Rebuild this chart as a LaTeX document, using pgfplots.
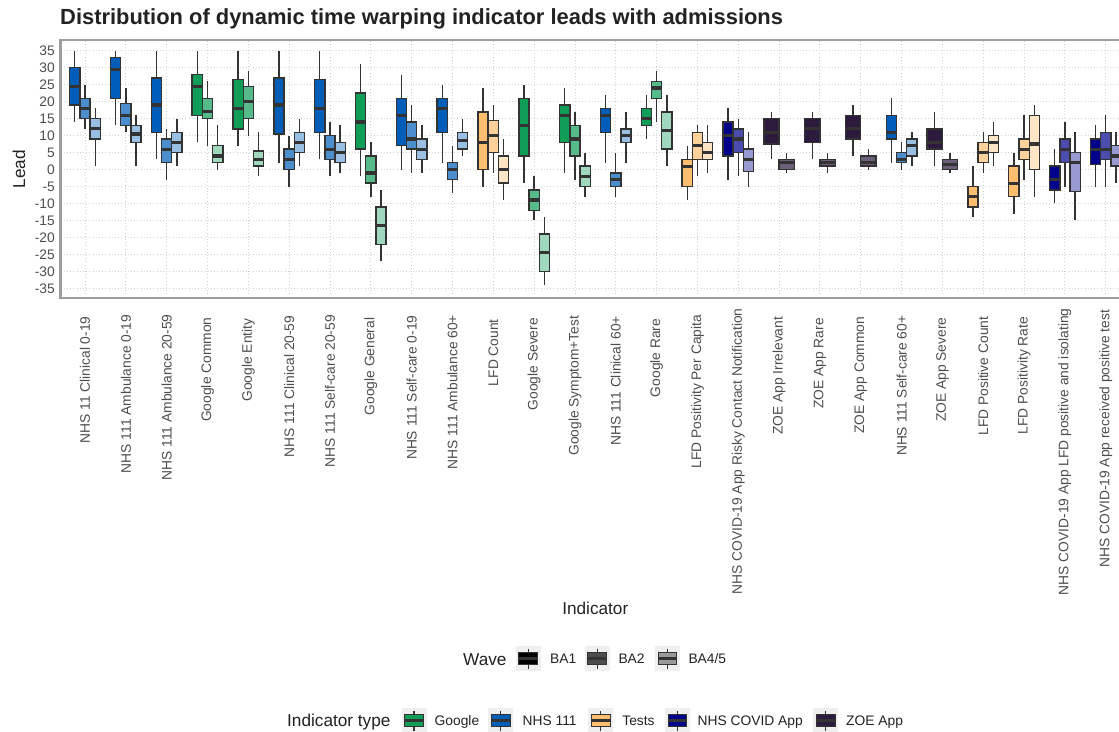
\documentclass[border=0pt]{standalone}
\usepackage{fontspec}
\setmainfont{Liberation Sans}
\usepackage{pgfplots}
\pgfplotsset{compat=1.18}
\usepgfplotslibrary{statistics}

\definecolor{googleC}{HTML}{0F9D58}
\definecolor{nhsC}{HTML}{005EB8}
\definecolor{testsC}{HTML}{FDBF6F}
\definecolor{covidC}{HTML}{00008B}
\definecolor{zoeC}{HTML}{2D1B3D}
\definecolor{boxline}{HTML}{333333}
\definecolor{gridC}{HTML}{D2D2D2}
\definecolor{borderC}{HTML}{9E9E9E}
\definecolor{tickC}{HTML}{4D4D4D}
\definecolor{keybg}{HTML}{EFEFEF}
\definecolor{titleC}{HTML}{222222}

\newsavebox{\lblbox}
\DeclareRobustCommand{\lbl}[1]{\sbox{\lblbox}{#1}\usebox{\lblbox}\hspace*{-0.05\wd\lblbox}}

% pos, extend, colour, percent, lower whisker, lower quartile, median, upper quartile, upper whisker
\newcommand{\bx}[9]{\addplot[boxplot prepared={draw position=#1, box extend=#2, lower whisker=#5, lower quartile=#6, median=#7, upper quartile=#8, upper whisker=#9}, draw=boxline, fill=#3!#4!white, line width=1.4pt, solid, boxplot/every median/.style={line width=3.2pt}] coordinates {};}

\newcommand{\legkey}[3]{\begin{scope}[shift={(#1pt,#2pt)}]
 \fill[keybg] (0,0) rectangle (25pt,-25pt);
 \draw[boxline, line width=1.3pt] (12.5pt,-2.5pt) -- (12.5pt,-6.25pt) (12.5pt,-18.75pt) -- (12.5pt,-22.5pt);
 \filldraw[fill=#3, draw=boxline, line width=1.1pt] (3.125pt,-6.25pt) rectangle (21.875pt,-18.75pt);
 \draw[boxline, line width=2.2pt] (3.125pt,-12.5pt) -- (21.875pt,-12.5pt);
\end{scope}}

\begin{document}
\begin{tikzpicture}
\begin{axis}[
 at={(60.5pt,-297.5pt)}, anchor=south west,
 x=40.83pt, y=3.394pt,
 xmin=-0.6, xmax=25.6, ymin=-37.7, ymax=38.3,
 axis line style={draw=borderC, line width=2pt},
 tick style={draw=none}, major tick length=0pt,
 grid=major,
 major grid style={draw=gridC, line width=0.9pt, dash pattern=on 1pt off 2.2pt},
 ytick={-35,-30,...,35},
 yticklabels={-35,-30,-25,-20,-15,-10,-5,0,5,10,15,20,25,30,35},
 xtick={0,...,25},
 xticklabels={
 {\lbl{NHS 11 Clinical 0-19}},
 {\lbl{NHS 111 Ambulance 0-19}},
 {\lbl{NHS 111 Ambulance 20-59}},
 {\lbl{Google Common}},
 {\lbl{Google Entity}},
 {\lbl{NHS 111 Clinical 20-59}},
 {\lbl{NHS 111 Self-care 20-59}},
 {\lbl{Google General}},
 {\lbl{NHS 111 Self-care 0-19}},
 {\lbl{NHS 111 Ambulance 60+}},
 {\lbl{LFD Count}},
 {\lbl{Google Severe}},
 {\lbl{Google Symptom+Test}},
 {\lbl{NHS 111 Clinical 60+}},
 {\lbl{Google Rare}},
 {\lbl{LFD Positivity Per Capita}},
 {\lbl{NHS COVID-19 App Risky Contact Notification}},
 {\lbl{ZOE App Irrelevant}},
 {\lbl{ZOE App Rare}},
 {\lbl{ZOE App Common}},
 {\lbl{NHS 111 Self-care 60+}},
 {\lbl{ZOE App Severe}},
 {\lbl{LFD Positive Count}},
 {\lbl{LFD Positivity Rate}},
 {\lbl{NHS COVID-19 App LFD positive and isolating}},
 {\lbl{NHS COVID-19 App received positive test}}},
 ticklabel style={font=\fontsize{13.8}{16}\selectfont, text=tickC, inner sep=0pt},
 yticklabel style={anchor=east},
 yticklabel shift=5.5pt,
 xticklabel style={rotate=90, anchor=east},
 xticklabel shift=25pt,
 boxplot/draw direction=y,
 boxplot/whisker extend=0,
]
% 0 NHS 11 Clinical 0-19
\bx{-0.25}{0.25}{nhsC}{100}{14}{19}{24.5}{30}{35}
\bx{0}{0.25}{nhsC}{70}{12}{15}{18}{21}{25}
\bx{0.25}{0.25}{nhsC}{40}{1}{9}{12}{15}{18}
% 1
\bx{0.75}{0.25}{nhsC}{100}{13}{21}{29.5}{33}{35}
\bx{1}{0.25}{nhsC}{70}{11}{13}{16}{19.5}{24}
\bx{1.25}{0.25}{nhsC}{40}{1}{8}{10.5}{13}{16}
% 2
\bx{1.75}{0.25}{nhsC}{100}{3}{11}{19}{27}{35}
\bx{2}{0.25}{nhsC}{70}{-3}{2}{6}{9}{12}
\bx{2.25}{0.25}{nhsC}{40}{1}{5}{8}{11}{15}
% 3 Google Common
\bx{2.75}{0.25}{googleC}{100}{8}{16}{24.5}{28}{35}
\bx{3}{0.25}{googleC}{70}{7}{15}{17}{21}{26}
\bx{3.25}{0.25}{googleC}{40}{0}{2}{4}{7}{13}
% 4 Google Entity
\bx{3.75}{0.25}{googleC}{100}{7}{12}{18}{26.5}{35}
\bx{4}{0.25}{googleC}{70}{10}{15}{20}{24.5}{29}
\bx{4.25}{0.25}{googleC}{40}{-2}{1}{3}{5.5}{11}
% 5
\bx{4.75}{0.25}{nhsC}{100}{2}{10.5}{19}{27}{35}
\bx{5}{0.25}{nhsC}{70}{-5}{0}{3}{6}{10}
\bx{5.25}{0.25}{nhsC}{40}{1}{5}{8}{11}{15}
% 6
\bx{5.75}{0.25}{nhsC}{100}{3}{11}{18}{26.5}{35}
\bx{6}{0.25}{nhsC}{70}{-2}{3}{6}{10}{14}
\bx{6.25}{0.25}{nhsC}{40}{-1}{2}{5}{8}{13}
% 7 Google General
\bx{6.75}{0.25}{googleC}{100}{-2}{6}{14}{22.5}{31}
\bx{7}{0.25}{googleC}{70}{-8}{-4}{-1}{4}{8}
\bx{7.25}{0.25}{googleC}{40}{-27}{-22}{-16.5}{-11}{-6}
% 8
\bx{7.75}{0.25}{nhsC}{100}{0}{7}{16}{21}{28}
\bx{8}{0.25}{nhsC}{70}{-1}{6}{9}{14}{19}
\bx{8.25}{0.25}{nhsC}{40}{-1}{3}{6}{9}{13}
% 9
\bx{8.75}{0.25}{nhsC}{100}{2}{11}{18}{21}{25}
\bx{9}{0.25}{nhsC}{70}{-7}{-3}{0}{2}{7}
\bx{9.25}{0.25}{nhsC}{40}{4}{6}{8.5}{11}{15}
% 10 LFD Count
\bx{9.75}{0.25}{testsC}{100}{-5}{0}{8}{17}{24}
\bx{10}{0.25}{testsC}{70}{-1}{5}{10}{14.5}{19}
\bx{10.25}{0.25}{testsC}{40}{-9}{-4}{0}{4}{9}
% 11 Google Severe
\bx{10.75}{0.25}{googleC}{100}{-4}{4}{13}{21}{25}
\bx{11}{0.25}{googleC}{70}{-15}{-12}{-9}{-6}{-2}
\bx{11.25}{0.25}{googleC}{40}{-34}{-30}{-24.5}{-19}{-14}
% 12 Google Symptom+Test
\bx{11.75}{0.25}{googleC}{100}{-1}{8}{16}{19}{24}
\bx{12}{0.25}{googleC}{70}{-3}{4}{9}{13}{17}
\bx{12.25}{0.25}{googleC}{40}{-8}{-5}{-2}{1}{5}
% 13
\bx{12.75}{0.25}{nhsC}{100}{2}{11}{16}{18}{22}
\bx{13}{0.25}{nhsC}{70}{-8}{-5}{-3}{-1}{5}
\bx{13.25}{0.25}{nhsC}{40}{2}{8}{10}{12}{17}
% 14 Google Rare
\bx{13.75}{0.25}{googleC}{100}{9}{13}{15}{18}{22}
\bx{14}{0.25}{googleC}{70}{14}{21}{24}{26}{29}
\bx{14.25}{0.25}{googleC}{40}{1}{6}{11.5}{17}{22}
% 15 LFD Positivity Per Capita
\bx{14.75}{0.25}{testsC}{100}{-9}{-5}{1}{3}{7}
\bx{15}{0.25}{testsC}{70}{-2}{3}{7}{11}{13}
\bx{15.25}{0.25}{testsC}{40}{-1}{3}{5}{8}{13}
% 16 Risky Contact
\bx{15.75}{0.25}{covidC}{100}{-3}{4}{10}{14}{18}
\bx{16}{0.25}{covidC}{70}{-2}{5}{9}{12}{15}
\bx{16.25}{0.25}{covidC}{40}{-5}{-0.5}{3}{6}{11}
% 17 ZOE Irrelevant
\bx{16.8125}{0.375}{zoeC}{100}{3}{7.5}{11}{15}{17}
\bx{17.1875}{0.375}{zoeC}{70}{-1}{0}{2}{3}{5}
% 18 ZOE Rare
\bx{17.8125}{0.375}{zoeC}{100}{3}{8}{12}{15}{17}
\bx{18.1875}{0.375}{zoeC}{70}{-1}{1}{2}{3}{5}
% 19 ZOE Common
\bx{18.8125}{0.375}{zoeC}{100}{4}{9}{12}{16}{19}
\bx{19.1875}{0.375}{zoeC}{70}{0}{1}{2}{4}{6}
% 20
\bx{19.75}{0.25}{nhsC}{100}{2}{9}{11}{16}{21}
\bx{20}{0.25}{nhsC}{70}{0}{2}{3}{5}{8}
\bx{20.25}{0.25}{nhsC}{40}{1}{4}{7}{9}{11}
% 21 ZOE Severe
\bx{20.8125}{0.375}{zoeC}{100}{1}{6}{8}{12}{17}
\bx{21.1875}{0.375}{zoeC}{70}{-1}{0}{1.5}{3}{5}
% 22 LFD Positive Count
\bx{21.75}{0.25}{testsC}{100}{-14}{-11}{-8}{-5}{1}
\bx{22}{0.25}{testsC}{70}{-1}{2}{5}{8}{11}
\bx{22.25}{0.25}{testsC}{40}{1}{5}{8}{10}{14}
% 23 LFD Positivity Rate
\bx{22.75}{0.25}{testsC}{100}{-13}{-8}{-4}{1}{5}
\bx{23}{0.25}{testsC}{70}{-3}{3}{6}{9}{16}
\bx{23.25}{0.25}{testsC}{40}{-8}{0}{7.5}{16}{19}
% 24 LFD positive and isolating
\bx{23.75}{0.25}{covidC}{100}{-10}{-6}{-3}{1}{6}
\bx{24}{0.25}{covidC}{70}{-5}{2}{6}{9}{14}
\bx{24.25}{0.25}{covidC}{40}{-15}{-6.5}{2}{5}{11}
% 25 received positive test
\bx{24.75}{0.25}{covidC}{100}{-5}{1.5}{6}{9}{13}
\bx{25}{0.25}{covidC}{70}{-5}{3}{6}{11}{16}
\bx{25.25}{0.25}{covidC}{40}{-4}{1}{4}{7}{11}
\end{axis}

% title and axis titles
\node[anchor=base west, font=\bfseries\fontsize{21.9}{26}\selectfont, text=titleC, inner sep=0pt] at (60pt,-24pt) {Distribution of dynamic time warping indicator leads with admissions};
\node[anchor=base, font=\fontsize{17.2}{20}\selectfont, text=titleC, inner sep=0pt] at (595.3pt,-614pt) {Indicator};
\node[anchor=base, rotate=90, font=\fontsize{17.2}{20}\selectfont, text=titleC, inner sep=0pt] at (25pt,-169pt) {Lead};

% legend: Wave
\node[anchor=base west, font=\fontsize{17.2}{20}\selectfont, text=titleC, inner sep=0pt] at (463pt,-665pt) {Wave};
\legkey{515.7}{-646}{black}
\node[anchor=base west, font=\fontsize{13.8}{16}\selectfont, text=titleC, inner sep=0pt] at (550pt,-663.5pt) {BA1};
\legkey{584.8}{-646}{black!70!white}
\node[anchor=base west, font=\fontsize{13.8}{16}\selectfont, text=titleC, inner sep=0pt] at (618.3pt,-663.5pt) {BA2};
\legkey{655}{-646}{black!40!white}
\node[anchor=base west, font=\fontsize{13.8}{16}\selectfont, text=titleC, inner sep=0pt] at (688.3pt,-663.5pt) {BA4/5};

% legend: Indicator type
\node[anchor=base west, font=\fontsize{17.2}{20}\selectfont, text=titleC, inner sep=0pt] at (287pt,-726.8pt) {Indicator type};
\legkey{401.5}{-708}{googleC}
\node[anchor=base west, font=\fontsize{13.8}{16}\selectfont, text=titleC, inner sep=0pt] at (434.5pt,-725.5pt) {Google};
\legkey{488.3}{-708}{nhsC}
\node[anchor=base west, font=\fontsize{13.8}{16}\selectfont, text=titleC, inner sep=0pt] at (522.5pt,-725.5pt) {NHS 111};
\legkey{588.3}{-708}{testsC}
\node[anchor=base west, font=\fontsize{13.8}{16}\selectfont, text=titleC, inner sep=0pt] at (622.2pt,-725.5pt) {Tests};
\legkey{665}{-708}{covidC}
\node[anchor=base west, font=\fontsize{13.8}{16}\selectfont, text=titleC, inner sep=0pt] at (697.5pt,-725.5pt) {NHS COVID App};
\legkey{813.3}{-708}{zoeC}
\node[anchor=base west, font=\fontsize{13.8}{16}\selectfont, text=titleC, inner sep=0pt] at (846pt,-725.5pt) {ZOE App};

\pgfresetboundingbox
\path[use as bounding box] (0,0) rectangle (1119pt,-731pt);
\end{tikzpicture}
\end{document}
